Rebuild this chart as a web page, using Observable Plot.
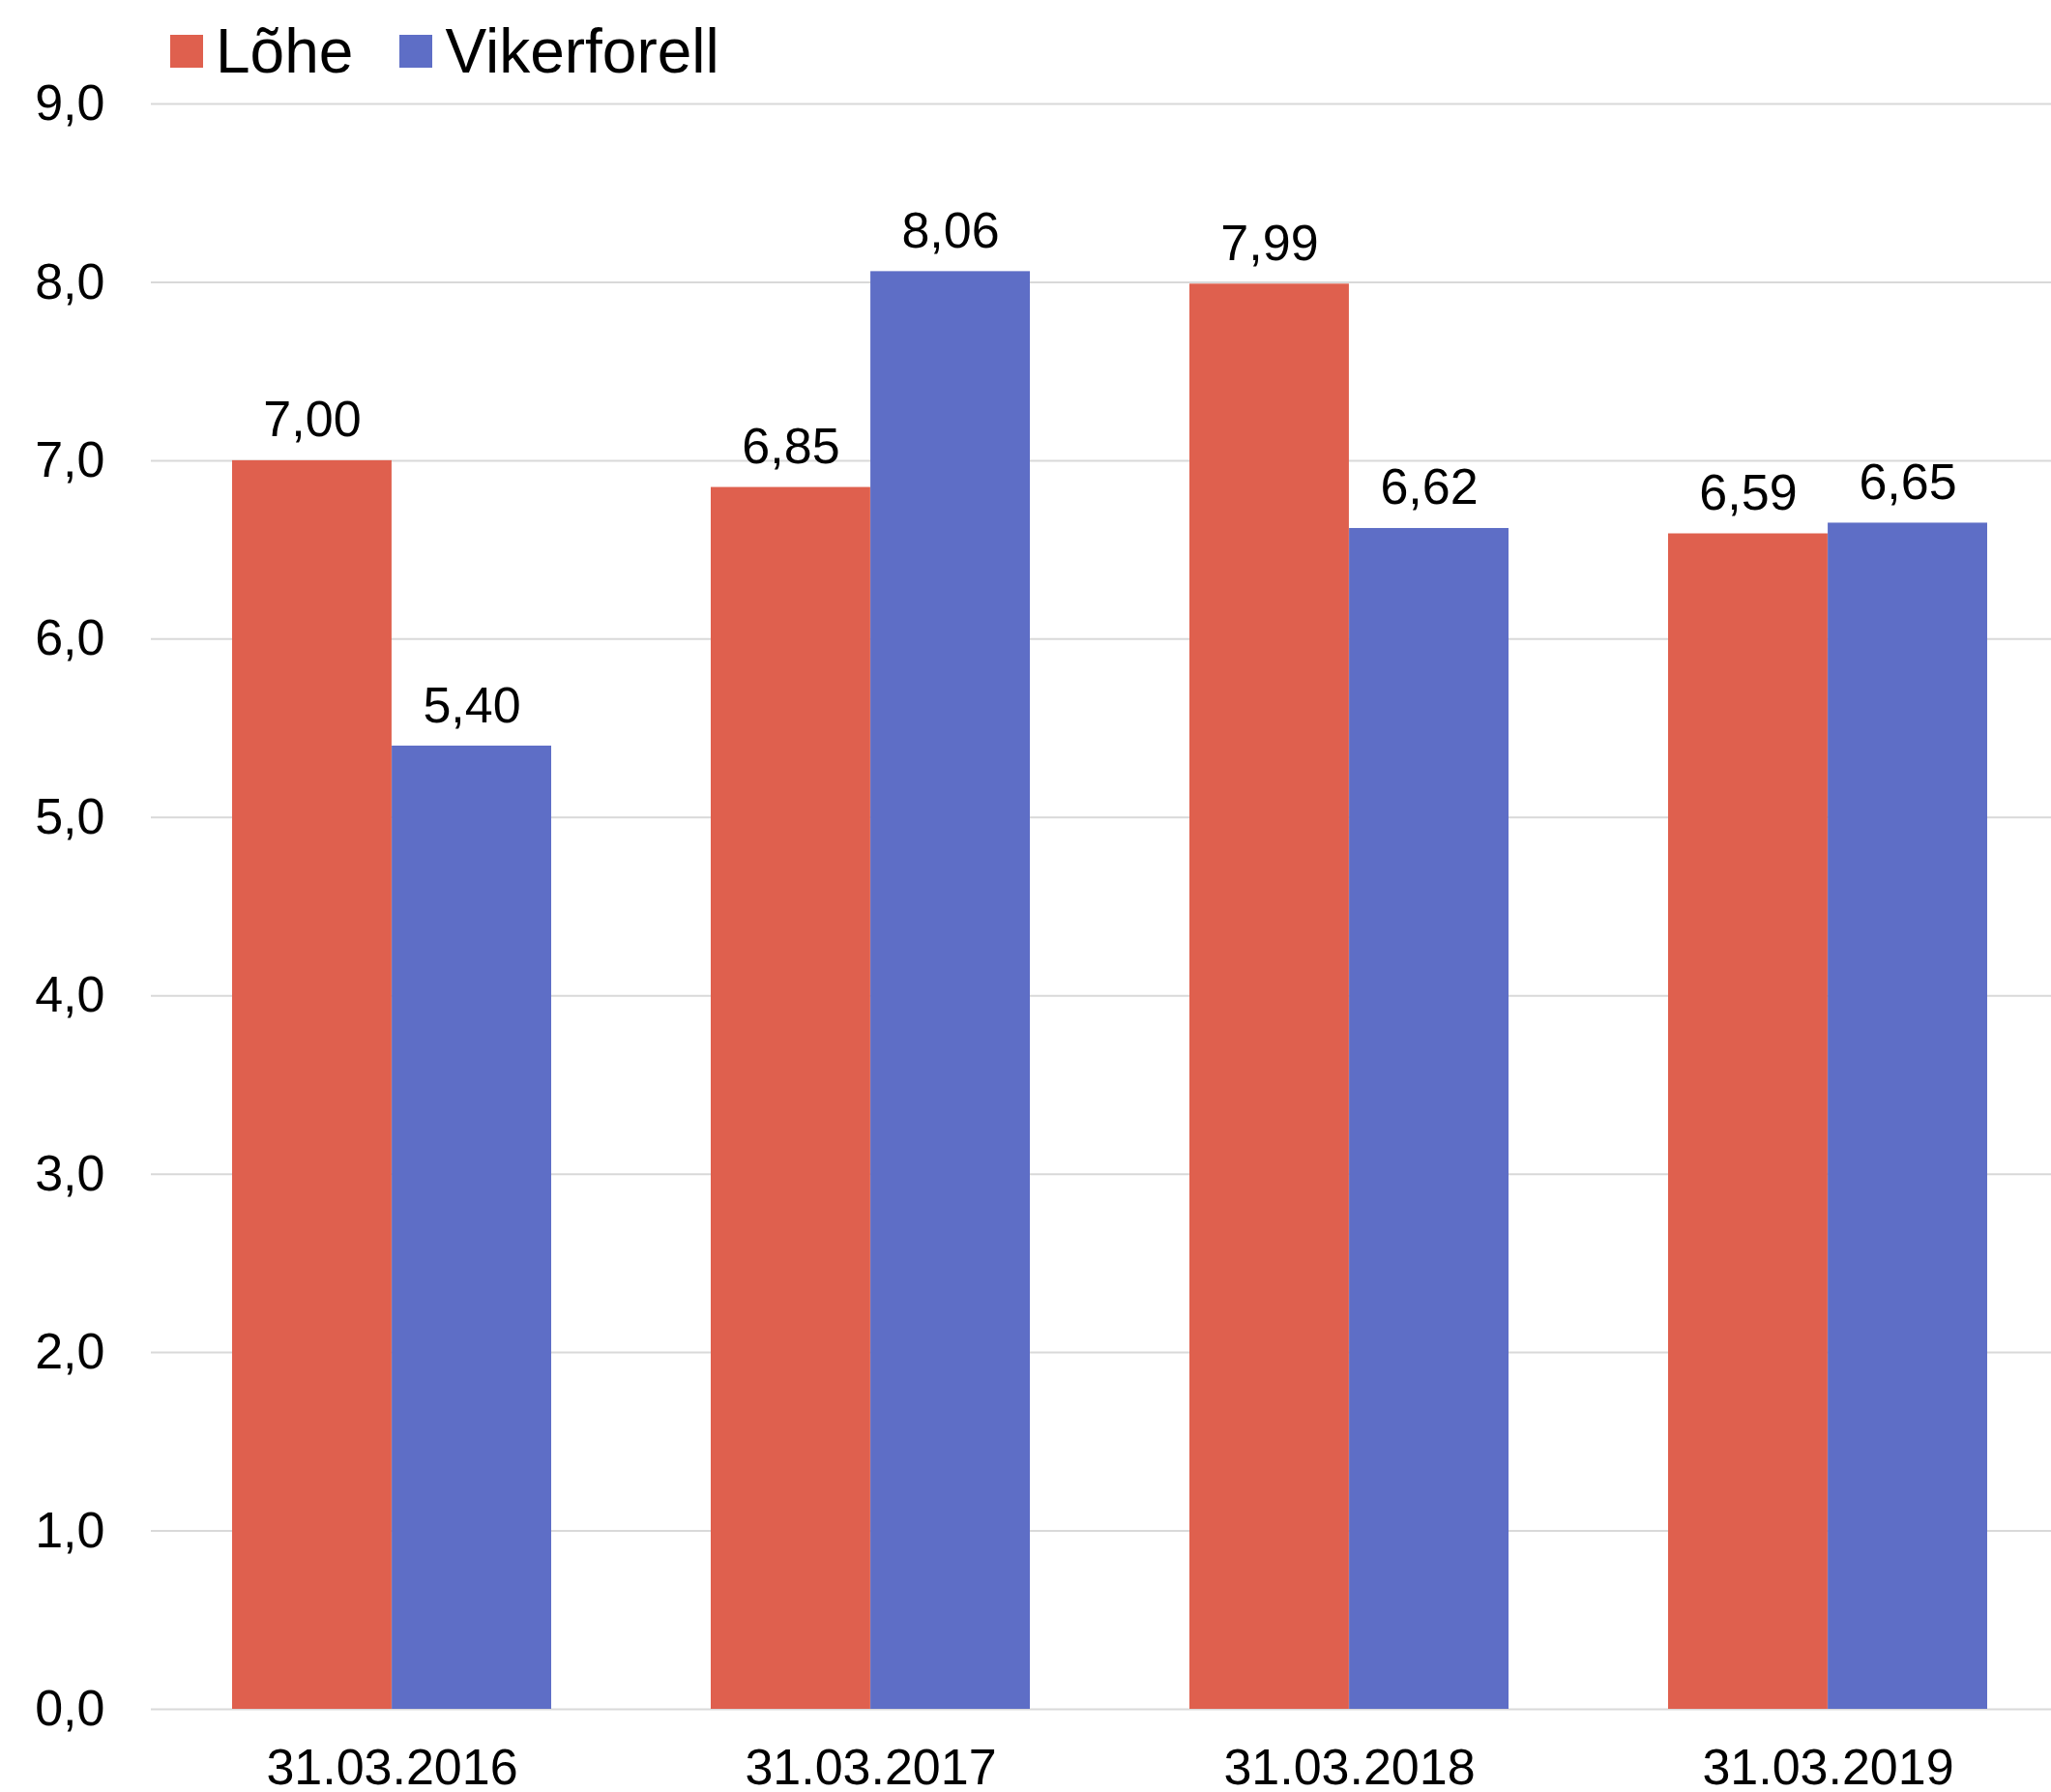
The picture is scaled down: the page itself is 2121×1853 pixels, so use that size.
<!DOCTYPE html>
<html>
<head>
<meta charset="utf-8">
<script src="https://cdn.jsdelivr.net/npm/d3@7"></script>
<script src="https://cdn.jsdelivr.net/npm/@observablehq/plot@0.6"></script>
<style>
  html, body { margin: 0; padding: 0; background: #fff; }
  #wrap { position: relative; width: 2121px; height: 1853px; overflow: hidden; font-family: "Liberation Sans", Arial, sans-serif; }
  #legend { position: absolute; left: 176px; top: 21px; display: flex; align-items: center; font-size: 64px; line-height: 64px; color: #000; }
  .item { display: flex; align-items: center; margin-right: 48px; }
  .sw { width: 34px; height: 34px; margin-right: 13px; display: inline-block; }
</style>
</head>
<body>
<div id="wrap"><div id="legend"></div></div>
<script>
const dates = ["31.03.2016", "31.03.2017", "31.03.2018", "31.03.2019"];
const series = ["Lõhe", "Vikerforell"];
const lohe = [7.00, 6.85, 7.99, 6.59];
const vikerforell = [5.40, 8.06, 6.62, 6.65];
const colors = ["#DF604E", "#5E6EC6"];
const yTicks = [0, 1, 2, 3, 4, 5, 6, 7, 8, 9];

const data = dates.flatMap((d, i) => [
  {date: d, series: series[0], value: lohe[i]},
  {date: d, series: series[1], value: vikerforell[i]}
]);

const W = 2121, H = 1853;
const mL = 156, mR = -18, mT = 107, mB = 86;
const padInner = 0.334, padOuter = 0.167;
const step = (W - mL - mR) / (dates.length - padInner + 2 * padOuter);
const bw = step * (1 - padInner);
const half = bw / 2;

const fmt1 = v => d3.format(".1f")(v).replace(".", ",");
const fmt2 = v => d3.format(".2f")(v).replace(".", ",");

const s0 = data.filter(d => d.series === series[0]);
const s1 = data.filter(d => d.series === series[1]);

const chart = Plot.plot({
  width: W,
  height: H,
  marginLeft: mL,
  marginRight: mR,
  marginTop: mT,
  marginBottom: mB,
  style: {fontFamily: "'Liberation Sans', Arial, sans-serif", fontSize: "52px", background: "transparent", color: "#000"},
  x: {domain: dates, paddingInner: padInner, paddingOuter: padOuter, label: null},
  y: {domain: [0, 9], label: null},
  color: {domain: series, range: colors},
  marks: [
    Plot.ruleY(yTicks, {stroke: "#d9d9d9", strokeWidth: 2}),
    Plot.barY(s0, {x: "date", y: "value", fill: "series", insetRight: half}),
    Plot.barY(s1, {x: "date", y: "value", fill: "series", insetLeft: half}),
    Plot.text(s0, {x: "date", y: "value", text: d => fmt2(d.value), dx: -half / 2, dy: -25, lineAnchor: "bottom", fontSize: 52, fill: "#000"}),
    Plot.text(s1, {x: "date", y: "value", text: d => fmt2(d.value), dx: half / 2, dy: -25, lineAnchor: "bottom", fontSize: 52, fill: "#000"}),
    Plot.axisY({ticks: yTicks, tickFormat: fmt1, tickSize: 0, tickPadding: 48, fontSize: 52, label: null}),
    Plot.axisX({tickSize: 0, tickPadding: 41, fontSize: 52, label: null})
  ]
});
chart.style.position = "absolute";
chart.style.left = "0";
chart.style.top = "0";
document.getElementById("wrap").prepend(chart);

const legend = document.getElementById("legend");
series.forEach((s, i) => {
  const it = document.createElement("div");
  it.className = "item";
  const sw = document.createElement("span");
  sw.className = "sw";
  sw.style.background = colors[i];
  const tx = document.createElement("span");
  tx.textContent = s;
  it.appendChild(sw);
  it.appendChild(tx);
  legend.appendChild(it);
});
</script>
</body>
</html>
